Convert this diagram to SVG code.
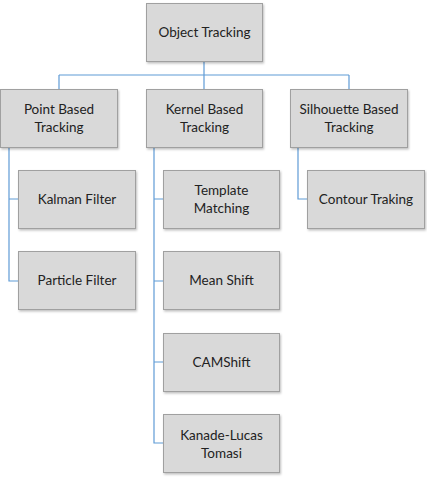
<svg xmlns="http://www.w3.org/2000/svg" width="427" height="479" viewBox="0 0 427 479">
<defs>
<filter id="sh" x="-10%" y="-10%" width="130%" height="130%">
<feDropShadow dx="1" dy="1.5" stdDeviation="1" flood-color="#000" flood-opacity="0.25"/>
</filter>
</defs>
<style>
.box{fill:#d9d9d9;stroke:#a0a0a0;stroke-width:1;filter:url(#sh)}
.t{font-family:Lato,"Open Sans","Liberation Sans",sans-serif;font-size:13.5px;fill:#222;text-anchor:middle}
.c{fill:none;stroke:#5f9bd6;stroke-width:1.2}
</style>
<rect width="427" height="479" fill="#fff"/>
<g id="connectors">
<path class="c" d="M204 61V75M59 75H349M59 75V89M204 75V89M349 75V89"/>
<path class="c" d="M9 147V281H18M9 199H18"/>
<path class="c" d="M154 147V443H163M154 199H163M154 281H163M154 362H163"/>
<path class="c" d="M298 147V199H307"/>
</g>
<g id="object-tracking"><rect class="box" x="146.5" y="3.5" width="116" height="58"/><text class="t" x="204.5" y="37">Object Tracking</text></g>
<g id="point-based"><rect class="box" x="0.5" y="89.5" width="117" height="58"/><text class="t" x="59" y="114">Point Based</text><text class="t" x="59" y="131.5">Tracking</text></g>
<g id="kernel-based"><rect class="box" x="146.5" y="89.5" width="116" height="58"/><text class="t" x="204.5" y="114">Kernel Based</text><text class="t" x="204.5" y="131.5">Tracking</text></g>
<g id="silhouette-based"><rect class="box" x="290.5" y="89.5" width="117" height="58"/><text class="t" x="349" y="114">Silhouette Based</text><text class="t" x="349" y="131.5">Tracking</text></g>
<g id="kalman"><rect class="box" x="18.5" y="170.5" width="117" height="58"/><text class="t" x="77" y="204">Kalman Filter</text></g>
<g id="particle"><rect class="box" x="18.5" y="251.5" width="117" height="58"/><text class="t" x="77" y="285">Particle Filter</text></g>
<g id="template"><rect class="box" x="163.5" y="170.5" width="116" height="58"/><text class="t" x="221.5" y="195">Template</text><text class="t" x="221.5" y="212.5">Matching</text></g>
<g id="meanshift"><rect class="box" x="163.5" y="251.5" width="116" height="58"/><text class="t" x="221.5" y="285">Mean Shift</text></g>
<g id="camshift"><rect class="box" x="163.5" y="333.5" width="116" height="58"/><text class="t" x="221.5" y="367">CAMShift</text></g>
<g id="klt"><rect class="box" x="163.5" y="414.5" width="116" height="58"/><text class="t" x="221.5" y="440">Kanade-Lucas</text><text class="t" x="221.5" y="457.5">Tomasi</text></g>
<g id="contour"><rect class="box" x="307.5" y="170.5" width="117" height="58"/><text class="t" x="366" y="204">Contour Traking</text></g>
</svg>
